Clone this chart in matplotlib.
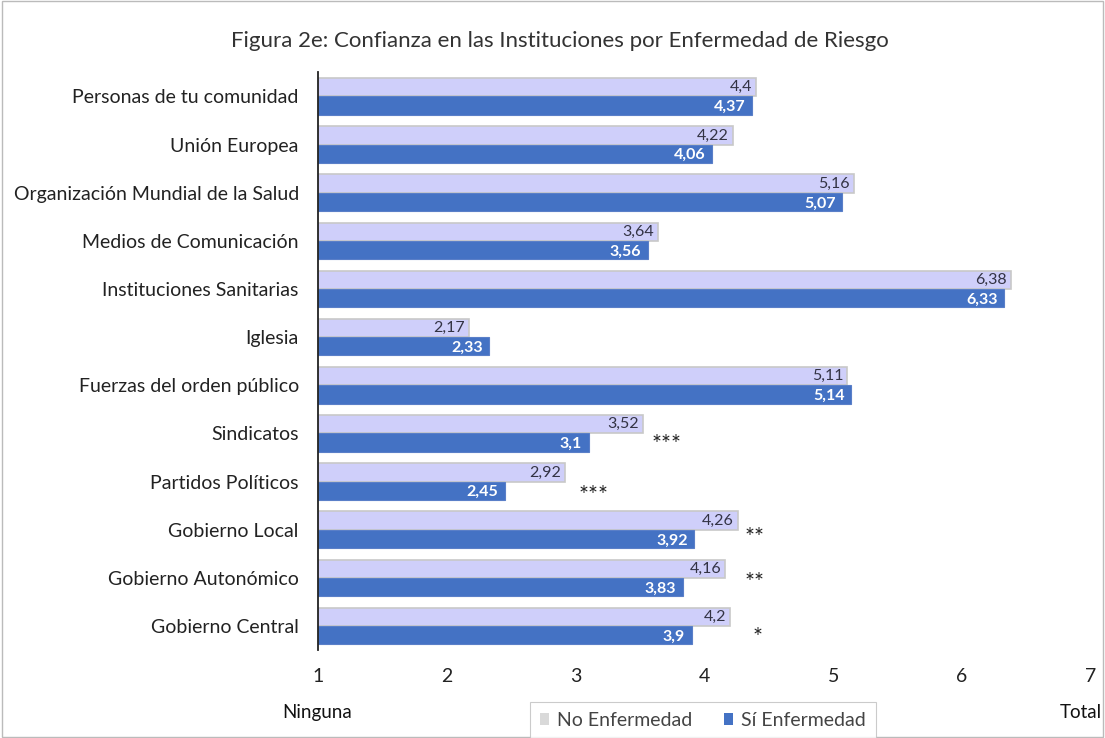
import matplotlib
matplotlib.use("Agg")
import matplotlib.pyplot as plt
import numpy as np
from matplotlib.patches import Rectangle, Patch

plt.rcParams['font.family'] = ['Lato', 'DejaVu Sans']

# categories top to bottom, as in the picture
categories = ['Personas de tu comunidad', 'Unión Europea',
              'Organización Mundial de la Salud', 'Medios de Comunicación',
              'Instituciones Sanitarias', 'Iglesia', 'Fuerzas del orden público',
              'Sindicatos', 'Partidos Políticos', 'Gobierno Local',
              'Gobierno Autonómico', 'Gobierno Central']
no_enf = [4.4, 4.22, 5.16, 3.64, 6.38, 2.17, 5.11, 3.52, 2.92, 4.26, 4.16, 4.2]
si_enf = [4.37, 4.06, 5.07, 3.56, 6.33, 2.33, 5.14, 3.1, 2.45, 3.92, 3.83, 3.9]
stars = ['', '', '', '', '', '', '', '***', '***', '**', '**', '*']
star_x = [0, 0, 0, 0, 0, 0, 0, 3.59, 3.02, 4.31, 4.31, 4.37]
star_dy = [0, 0, 0, 0, 0, 0, 0, 0.23, 0.28, 0.17, 0.09, 0.23]
xticks = [1, 2, 3, 4, 5, 6, 7]

light = '#CFCFFA'
dark = '#4472C4'

fig = plt.figure(figsize=(11.05, 7.38), dpi=100)
ax = fig.add_axes([0.288, 0.119, 0.699, 0.783])

y = np.arange(len(categories))
h = 0.38
base = 1
ax.barh(y - h / 2, np.array(no_enf) - base, left=base, height=h, color=light,
        edgecolor='#C8C8C8', linewidth=1.2)
ax.barh(y + h / 2, np.array(si_enf) - base, left=base, height=h, color=dark,
        edgecolor='#5A7FC8', linewidth=0.8)

def fmt(v):
    return ('%g' % v).replace('.', ',')

for i in range(len(categories)):
    ax.text(no_enf[i] - 0.03, y[i] - h / 2, fmt(no_enf[i]), ha='right', va='center',
            fontsize=11.5, color='#333344')
    ax.text(si_enf[i] - 0.05, y[i] + h / 2 + 0.03, fmt(si_enf[i]), ha='right', va='center',
            fontsize=11.5, color='white', fontweight='bold')
    if stars[i]:
        ax.text(star_x[i], y[i] + star_dy[i], stars[i], ha='left', va='center',
                fontsize=17, color='#222222')

ax.set_ylim(len(categories) - 0.5, -0.5)
ax.set_xlim(1, 7)
ax.set_yticks(y)
ax.set_yticklabels(categories, fontsize=14, color='#222222')
ax.set_xticks(xticks)
ax.set_xticklabels([str(t) for t in xticks], fontsize=14, color='#222222')
ax.tick_params(axis='both', length=0)
ax.tick_params(axis='x', pad=13)
ax.tick_params(axis='y', pad=14)
for s in ['top', 'right', 'bottom']:
    ax.spines[s].set_visible(False)
ax.spines['left'].set_color('#222222')
ax.spines['left'].set_linewidth(1.3)

fig.text(0.507, 0.945, 'Figura 2e: Confianza en las Instituciones por Enfermedad de Riesgo',
         ha='center', va='center', fontsize=16, color='#333333')
fig.text(0.255, 0.035, 'Ninguna', ha='left', va='center', fontsize=13.5, color='#111111')
fig.text(0.997, 0.035, 'Total', ha='right', va='center', fontsize=13.5, color='#111111')

# legend
handles = [Patch(facecolor='#D9D9D9', edgecolor='none', label='No Enfermedad'),
           Patch(facecolor=dark, edgecolor='none', label='Sí Enfermedad')]
leg = fig.legend(handles=handles, loc='center', bbox_to_anchor=(0.636, 0.024),
                 ncol=2, fontsize=14, frameon=True, handlelength=0.5,
                 handleheight=0.6, handletextpad=0.4, columnspacing=1.6,
                 fancybox=False, borderpad=0.5, borderaxespad=0)
leg.get_frame().set_edgecolor('#BFBFBF')
leg.get_frame().set_linewidth(0.8)
for t in leg.get_texts():
    t.set_color('#444444')

# outer border
fig.patches.append(Rectangle((0.002, 0.002), 0.996, 0.996, transform=fig.transFigure,
                             fill=False, edgecolor='#BBBBBB', linewidth=1))

fig.savefig('out.png', dpi=100)
